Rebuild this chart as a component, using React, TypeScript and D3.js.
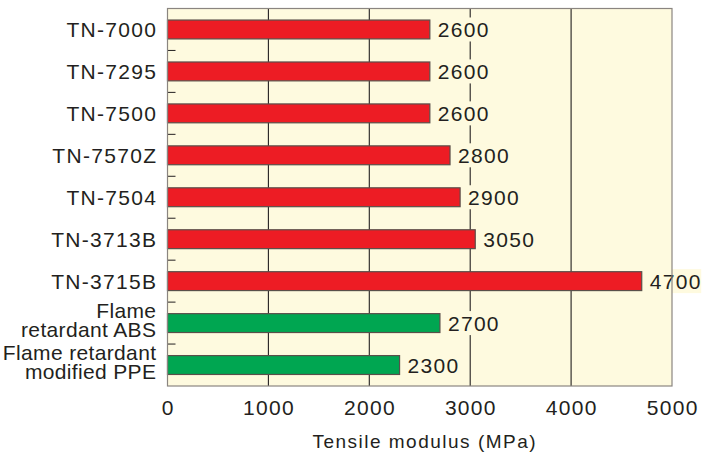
import React from "react";
import * as d3 from "d3";

const categories = [
  "TN-7000",
  "TN-7295",
  "TN-7500",
  "TN-7570Z",
  "TN-7504",
  "TN-3713B",
  "TN-3715B",
  "Flame retardant ABS",
  "Flame retardant modified PPE",
];
const labelLines = [
  ["TN-7000"],
  ["TN-7295"],
  ["TN-7500"],
  ["TN-7570Z"],
  ["TN-7504"],
  ["TN-3713B"],
  ["TN-3715B"],
  ["Flame", "retardant ABS"],
  ["Flame retardant", "modified PPE"],
];
const values = [2600, 2600, 2600, 2800, 2900, 3050, 4700, 2700, 2300];
const groups = ["TN", "TN", "TN", "TN", "TN", "TN", "TN", "ref", "ref"];
const xTicks = [0, 1000, 2000, 3000, 4000, 5000];
const xTitle = "Tensile modulus (MPa)";

const W = 703;
const H = 456;
const M = { left: 167.5, right: 31, top: 8.5, bottom: 70 };
const FONT = "'Liberation Sans', Arial, Helvetica, sans-serif";
const TEXT = "#231f20";
const BG = "#fefadf";
const colors: Record<string, string> = { TN: "#ed1c24", ref: "#00a651" };
const singleOffset = 8;
const multiOffsets = [-5, 14];

export default function App() {
  const x = d3.scaleLinear().domain([0, 5000]).range([M.left, W - M.right]);
  const y = d3
    .scaleBand<string>()
    .domain(categories)
    .range([M.top, H - M.bottom])
    .paddingInner(0.55)
    .paddingOuter(0.275);
  const step = y.step();
  const bw = y.bandwidth();
  const x0 = x(0);
  const x1 = x(5000);
  const y0 = M.top;
  const y1 = H - M.bottom;
  const fs = 21;
  const ls = 1.3;

  return (
    <svg width={W} height={H} style={{ position: "absolute", left: 0, top: 0 }} fontFamily={FONT}>
      <rect x={x0} y={y0} width={x1 - x0} height={y1 - y0} fill={BG} />
      {xTicks.slice(1, -1).map((t) => (
        <line key={t} x1={x(t)} x2={x(t)} y1={y0} y2={y1} stroke={TEXT} strokeWidth={1.1} />
      ))}
      {categories.slice(1).map((c) => {
        const yy = (y(c) as number) - (step - bw) / 2;
        return <line key={c} x1={x0} x2={x0 + 8} y1={yy} y2={yy} stroke={TEXT} strokeWidth={1} />;
      })}
      {categories.map((c, i) => (
        <rect
          key={c}
          x={x0}
          y={y(c)}
          width={x(values[i]) - x0}
          height={bw}
          fill={colors[groups[i]]}
          stroke="#5a4f4a"
          strokeWidth={1.2}
        />
      ))}
      {categories.map((c, i) => {
        const cy = (y(c) as number) + bw / 2;
        const tx = x(values[i]) + 8;
        return (
          <g key={c}>
            <rect x={tx - 1.5} y={cy - 12} width={53} height={24} fill={BG} />
            <text x={tx} y={cy + singleOffset} fontSize={fs} letterSpacing={ls} fill={TEXT}>
              {values[i]}
            </text>
          </g>
        );
      })}
      <rect x={x0} y={y0} width={x1 - x0} height={y1 - y0} fill="none" stroke="#8a8580" strokeWidth={1.2} />
      {categories.map((c, i) => {
        const cy = (y(c) as number) + bw / 2;
        const lines = labelLines[i];
        const multi = lines.length > 1;
        const offs = multi ? multiOffsets : [singleOffset];
        const lsp = multi ? 0.35 : ls;
        return lines.map((ln, k) => (
          <text
            key={c + k}
            x={156 + lsp}
            y={cy + offs[k]}
            textAnchor="end"
            fontSize={fs}
            letterSpacing={lsp}
            fill={TEXT}
          >
            {ln}
          </text>
        ));
      })}
      {xTicks.map((t) => (
        <text key={t} x={x(t) + ls / 2} y={415} textAnchor="middle" fontSize={fs} letterSpacing={ls} fill={TEXT}>
          {t}
        </text>
      ))}
      <text x={(x0 + x1) / 2 + 5} y={448} textAnchor="middle" fontSize={19} letterSpacing={1.5} fill={TEXT}>
        {xTitle}
      </text>
    </svg>
  );
}
